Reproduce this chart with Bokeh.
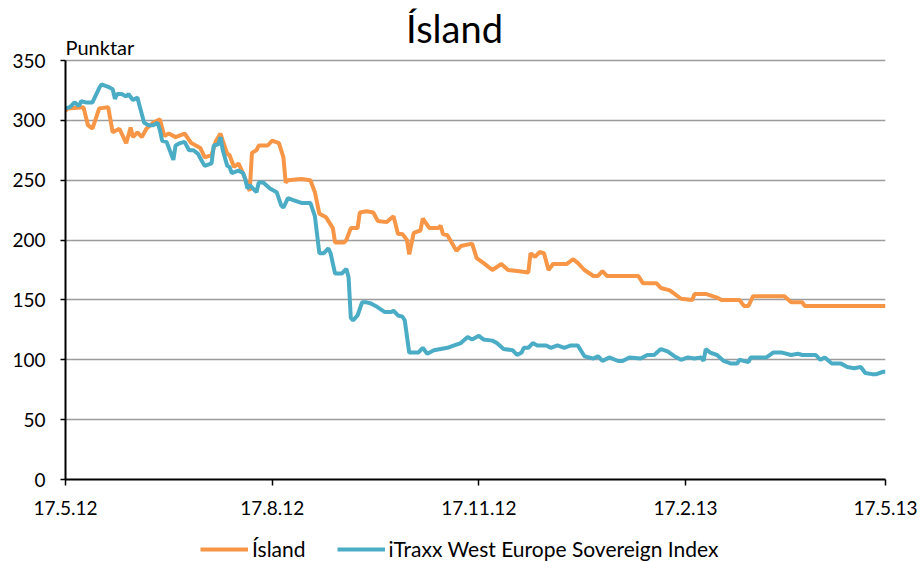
import pandas as pd
from bokeh.plotting import figure
from bokeh.layouts import column
from bokeh.models import (ColumnDataSource, FixedTicker, CustomJSTickFormatter, Range1d,
                          Legend, LegendItem, Label)
from bokeh.embed import file_html
from bokeh.resources import INLINE

START = "2012-05-17"
TICK_DATES = ["2012-05-17", "2012-08-17", "2012-11-17", "2013-02-17", "2013-05-17"]
Y_TICKS = [0, 50, 100, 150, 200, 250, 300, 350]
TITLE = "Ísland"
Y_UNIT = "Punktar"

isl_days = [0, 1, 8, 10, 12, 15, 19, 21, 24, 27, 29, 30, 32, 34, 36, 39, 42, 44, 46, 49, 53, 56, 60, 62, 65,
            67, 69, 70, 72, 73, 75, 77, 79, 81, 82, 83, 85, 86, 90, 92, 95, 97, 98, 99, 105, 109, 111, 113,
            116, 119, 120, 124, 125, 127, 130, 131, 134, 137, 139, 143, 146, 148, 150, 152, 153, 155, 158,
            159, 162, 166, 167, 168, 170, 174, 176, 181, 183, 186, 190, 194, 197, 202, 206, 207, 209, 211,
            213, 215, 217, 223, 226, 228, 231, 235, 237, 239, 241, 255, 257, 263, 265, 269, 274, 279, 280,
            285, 290, 292, 300, 302, 304, 306, 320, 323, 328, 329, 365]
isl_vals = [308, 310, 311, 296, 293, 310, 311, 290, 293, 281, 294, 286, 290, 286, 293, 298, 301, 287, 289, 286,
            289, 281, 277, 269, 271, 283, 289, 283, 272, 271, 261, 264, 256, 246, 241, 273, 275, 279, 279,
            283, 281, 269, 248, 250, 251, 250, 240, 222, 219, 210, 198, 198, 200, 210, 210, 223, 224, 223,
            216, 215, 220, 205, 205, 200, 188, 206, 208, 218, 210, 210, 212, 205, 204, 191, 195, 197, 185,
            181, 175, 180, 175, 174, 173, 189, 186, 190, 189, 175, 180, 180, 184, 181, 175, 170, 170, 174,
            170, 170, 164, 164, 160, 158, 151, 150, 155, 155, 152, 150, 150, 145, 145, 153, 153, 148, 148,
            145, 145]

itx_days = [0, 2, 4, 6, 7, 9, 12, 15, 16, 19, 21, 22, 23, 25, 27, 28, 30, 32, 33, 35, 37, 39, 41, 42, 43, 45,
            48, 49, 51, 53, 55, 57, 59, 61, 62, 65, 66, 68, 69, 70, 72, 73, 74, 77, 79, 80, 81, 82, 85, 86,
            88, 91, 94, 96, 97, 99, 102, 105, 109, 111, 113, 115, 117, 118, 120, 123, 125, 126, 127, 128,
            130, 132, 134, 136, 138, 142, 145, 146, 148, 150, 151, 153, 157, 159, 161, 164, 167, 170, 173,
            176, 179, 181, 184, 186, 190, 192, 195, 199, 201, 203, 204, 206, 208, 210, 214, 216, 219, 222,
            225, 228, 231, 235, 237, 239, 242, 246, 248, 251, 256, 259, 262, 265, 268, 271, 274, 277, 280,
            283, 284, 285, 287, 290, 293, 296, 299, 300, 304, 305, 312, 315, 319, 323, 326, 328, 334, 336,
            338, 341, 345, 348, 351, 354, 356, 359, 361, 364, 365]
itx_vals = [310, 311, 315, 312, 316, 315, 315, 327, 330, 328, 326, 318, 322, 322, 320, 322, 317, 319, 312, 298,
            296, 296, 298, 292, 283, 282, 267, 279, 281, 282, 275, 275, 272, 265, 262, 264, 279, 280, 286,
            275, 262, 261, 256, 258, 256, 251, 243, 246, 240, 248, 248, 243, 240, 229, 227, 235, 233, 231,
            231, 220, 189, 189, 193, 189, 172, 172, 176, 169, 135, 133, 137, 148, 148, 147, 145, 140, 140,
            141, 137, 136, 133, 106, 106, 110, 105, 108, 109, 110, 112, 114, 119, 117, 120, 117, 116, 114,
            109, 108, 104, 106, 110, 110, 114, 112, 112, 110, 112, 110, 112, 112, 103, 101, 103, 99, 102,
            99, 99, 102, 101, 104, 104, 109, 107, 103, 100, 102, 101, 102, 99, 109, 106, 104, 99, 97, 97,
            100, 98, 102, 102, 106, 106, 104, 105, 104, 104, 100, 102, 97, 97, 94, 93, 94, 89, 88, 88, 90,
            90]

SERIES_NAMES = ["Ísland", "iTraxx West Europe Sovereign Index"]
COLORS = ["#F79646", "#4BACC6"]
FONT = "Lato"
LW = 4

start = pd.Timestamp(START)
isl_src = ColumnDataSource(dict(x=start + pd.to_timedelta(isl_days, unit="D"), y=isl_vals))
itx_src = ColumnDataSource(dict(x=start + pd.to_timedelta(itx_days, unit="D"), y=itx_vals))

t0 = pd.Timestamp(TICK_DATES[0])
t1 = pd.Timestamp(TICK_DATES[-1])

# frame spans from the top margin down to the zero line; extra room above 350 holds the titles
Y_TOP = 350 * 471 / 419

p = figure(width=922, height=531, x_axis_type="datetime", output_backend="svg", toolbar_location=None,
           x_range=Range1d(t0, t1), y_range=Range1d(0, Y_TOP),
           min_border_left=65, min_border_right=37, min_border_top=8, min_border_bottom=52)
p.outline_line_color = None
p.background_fill_color = "white"

r1 = p.line("x", "y", source=isl_src, line_color=COLORS[0], line_width=LW)
r2 = p.line("x", "y", source=itx_src, line_color=COLORS[1], line_width=LW)

tick_ms = [pd.Timestamp(d).value / 1e6 for d in TICK_DATES]
p.xaxis.ticker = FixedTicker(ticks=tick_ms)
p.xaxis.formatter = CustomJSTickFormatter(code="""
const d = new Date(tick);
return d.getUTCDate() + '.' + (d.getUTCMonth() + 1) + '.' + (d.getUTCFullYear() % 100);
""")
p.yaxis.ticker = FixedTicker(ticks=Y_TICKS)
p.yaxis.bounds = (Y_TICKS[0], Y_TICKS[-1])

for ax in (p.xaxis[0], p.yaxis[0]):
    ax.axis_line_color = "black"
    ax.axis_line_width = 2
    ax.major_tick_line_color = "black"
    ax.major_tick_line_width = 1.5
    ax.major_tick_in = 0
    ax.minor_tick_line_color = None
    ax.major_label_text_font = FONT
    ax.major_label_text_font_size = "19px"
    ax.major_label_text_color = "black"
p.xaxis.major_tick_out = 6
p.yaxis.major_tick_out = 5
p.xaxis.major_label_standoff = 15
p.yaxis.major_label_standoff = 15

p.xgrid.grid_line_color = None
p.ygrid.grid_line_color = "#9C9C9C"
p.ygrid.grid_line_width = 1.5

mid_ms = (t0.value + (t1.value - t0.value) * 0.4744) / 1e6
p.add_layout(Label(x=mid_ms, y=377, text=TITLE, text_align="center", text_baseline="middle",
                   text_font=FONT, text_font_size="38px", text_color="black"))
p.add_layout(Label(x=t0.value / 1e6, y=361, text=Y_UNIT, text_align="left", text_baseline="middle",
                   text_font=FONT, text_font_size="20px", text_color="black"))

# legend strip below the chart; its renderers reuse the series sources, which lie outside its range
lf = figure(width=922, height=30, output_backend="svg", toolbar_location=None,
            min_border_left=0, min_border_right=0, min_border_top=0, min_border_bottom=0,
            x_range=Range1d(0, 1), y_range=Range1d(0, 1))
lf.axis.visible = False
lf.grid.visible = False
lf.outline_line_color = None
e1 = lf.line("x", "y", source=isl_src, line_color=COLORS[0], line_width=LW)
e2 = lf.line("x", "y", source=itx_src, line_color=COLORS[1], line_width=LW)
legend = Legend(items=[LegendItem(label=SERIES_NAMES[0], renderers=[e1]),
                       LegendItem(label=SERIES_NAMES[1], renderers=[e2])],
                orientation="horizontal", location=(135, 0),
                label_text_font=FONT, label_text_font_size="21px", label_text_color="black",
                glyph_width=48, glyph_height=20, label_standoff=4, spacing=31,
                border_line_color=None, background_fill_alpha=0, padding=0, margin=0)
lf.add_layout(legend, "center")

open("out.html", "w").write(file_html(column(p, lf, spacing=0), INLINE))
